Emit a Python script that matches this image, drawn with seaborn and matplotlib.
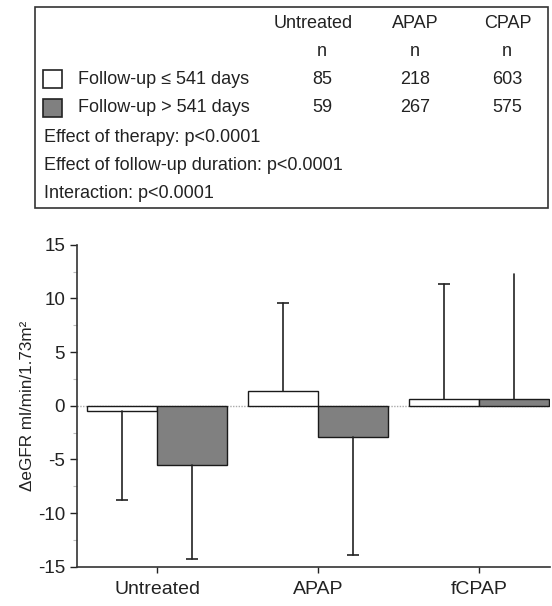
import matplotlib
matplotlib.use("Agg")
import matplotlib.pyplot as plt
from matplotlib.patches import Rectangle
from matplotlib.ticker import MultipleLocator
import numpy as np
import pandas as pd
import seaborn as sns

# data
groups = ["Untreated", "APAP", "fCPAP"]
followup = ["Follow-up \u2264 541 days", "Follow-up > 541 days"]
mean_short = [-0.5, 1.37, 0.6]
mean_long = [-5.53, -2.95, 0.6]
sd_short = [8.3, 8.2, 10.7]
sd_long = [8.8, 11.0, 11.7]

table_cols = ["Untreated", "APAP", "CPAP"]
n_short = [85, 218, 603]
n_long = [59, 267, 575]
stats_lines = ["Effect of therapy: p<0.0001",
               "Effect of follow-up duration: p<0.0001",
               "Interaction: p<0.0001"]

sns.set_style("ticks")
plt.rcParams["font.family"] = ["Liberation Sans", "DejaVu Sans"]
plt.rcParams["axes.unicode_minus"] = False
txt = "#222222"

df = pd.DataFrame({
    "group": groups * 2,
    "followup": [followup[0]] * 3 + [followup[1]] * 3,
    "mean": mean_short + mean_long,
    "sd": sd_short + sd_long,
})

fig = plt.figure(figsize=(5.52, 6.06), dpi=100)
ax = fig.add_axes([0.1395, 0.0649, 0.8565, 0.5313])

sns.barplot(data=df, x="group", y="mean", hue="followup", order=groups,
            hue_order=followup, palette=["white", "#808080"], edgecolor="#1a1a1a",
            linewidth=1.0, width=0.87, errorbar=None, legend=False, ax=ax)

# one-sided error bars (away from zero); last one drawn without a cap
sds = [sd_short, sd_long]
for h, cont in enumerate(ax.containers):
    for i, bar in enumerate(cont):
        x = bar.get_x() + bar.get_width() / 2
        val = df[(df.followup == followup[h]) & (df.group == groups[i])]["mean"].iloc[0]
        end = val + np.sign(val) * sds[h][i]
        ax.plot([x, x], [val, end], color=txt, lw=1.2, zorder=1)
        if not (h == 1 and i == 2):
            ax.plot(x, end, marker="_", ms=8, mew=1.2, color=txt, zorder=1)

ax.axhline(0, color="#aaaaaa", lw=1, ls=(0, (1, 1)), zorder=0)
ax.set_xlim(-0.5, 2.44)
ax.set_ylim(-15, 15)
ax.yaxis.set_major_locator(MultipleLocator(5))
ax.yaxis.set_minor_locator(MultipleLocator(2.5))
ax.tick_params(axis="y", which="major", length=5, width=1, labelsize=13.5, colors=txt)
ax.tick_params(axis="y", which="minor", length=3, width=0.8, color="#bbbbbb")
ax.tick_params(axis="x", length=4, width=1, labelsize=14, colors=txt, pad=6)
ax.set_xlabel("")
ax.set_ylabel("\u0394eGFR ml/min/1.73m\u00b2", fontsize=12.3, color=txt, labelpad=2)
sns.despine(ax=ax)
for s in ["left", "bottom"]:
    ax.spines[s].set_color("#333333")
    ax.spines[s].set_linewidth(1.2)

# table box on top
W, H = 552, 606
def fx(px):
    return px / W
def fy(py):
    return 1 - py / H

fig.patches.append(Rectangle((fx(35), fy(208)), fx(548) - fx(35), fy(7) - fy(208),
                             transform=fig.transFigure, fill=False,
                             edgecolor="#333333", lw=1.2))
fs = 13
col_x = [322, 415, 507]
head_x = [313, 415, 508]
for cx, hx, name, a, b in zip(col_x, head_x, table_cols, n_short, n_long):
    fig.text(fx(hx), fy(23), name, ha="center", va="center", fontsize=fs, color=txt)
    fig.text(fx(cx), fy(52), "n", ha="center", va="center", fontsize=fs, color=txt)
    fig.text(fx(cx), fy(79), str(a), ha="center", va="center", fontsize=fs, color=txt)
    fig.text(fx(cx), fy(108), str(b), ha="center", va="center", fontsize=fs, color=txt)

for row_y, label, color in zip([79, 108], followup, ["white", "#808080"]):
    fig.patches.append(Rectangle((fx(43), fy(row_y + 9)), fx(62) - fx(43), fy(row_y - 9) - fy(row_y + 9),
                                 transform=fig.transFigure, facecolor=color,
                                 edgecolor="#222222", lw=1.2))
    fig.text(fx(78), fy(row_y), label, ha="left", va="center", fontsize=fs, color=txt)

for row_y, line in zip([137, 166, 194], stats_lines):
    fig.text(fx(44), fy(row_y), line, ha="left", va="center", fontsize=fs, color=txt)

fig.savefig("out.png", dpi=100)
